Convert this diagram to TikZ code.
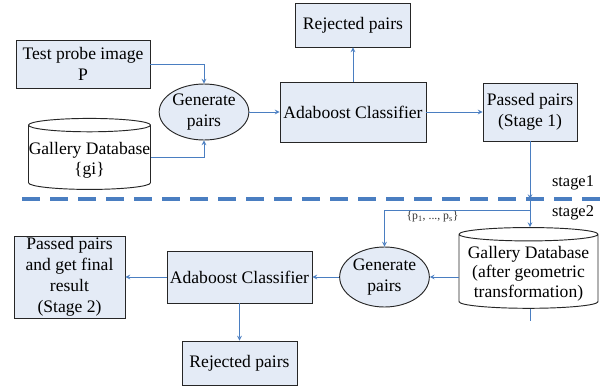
\documentclass[tikz,border=0pt]{standalone}
\usepackage{xcolor}
\usepackage{fontspec}
\setmainfont{Liberation Serif}
\usetikzlibrary{shapes.geometric, arrows, positioning, calc}

\definecolor{boxfill}{RGB}{228,235,246}
\definecolor{linkblue}{RGB}{74,126,193}

\begin{document}
\begin{tikzpicture}[x=0.03cm, y=-0.03cm, auto]
    \tikzstyle{block} = [rectangle, draw=black!85, line width=0.8pt, fill=boxfill, align=center, inner sep=0pt, font=\fontsize{15}{18}\selectfont]
    \tikzstyle{gen} = [ellipse, draw=black!85, line width=0.8pt, fill=boxfill, align=center, inner sep=0pt, font=\fontsize{15}{18}\selectfont]
    \tikzstyle{dbase} = [cylinder, shape border rotate=90, aspect=0.11, draw=black!85, line width=0.8pt, fill=white, align=center, inner sep=0pt, font=\fontsize{15}{17}\selectfont]
    \tikzstyle{arrow} = [->, >=stealth, linkblue, line width=0.8pt]
    \tikzstyle{stageline} = [linkblue, line width=2.6pt, dash pattern=on 0.54cm off 0.3cm]
    \tikzstyle{stagetext} = [font=\fontsize{14}{16}\selectfont, inner sep=0pt]

    \useasboundingbox (0,0) rectangle (609,390);

    % stage 1
    \node[block, minimum width=4.02cm, minimum height=1.44cm] (probe) at (83,64) {Test probe image\\P};
    \node[gen, minimum width=2.52cm, minimum height=1.68cm] (gen1) at (204,112) {Generate\\pairs};
    \node[dbase, minimum width=3.66cm, minimum height=2.13cm] (gal1) at (89.5,157.5) {\rule{0pt}{0.55cm}Gallery Database\\\{gi\}};
    \node[block, right of=gen1, node distance=4.47cm, minimum width=4.38cm, minimum height=1.8cm] (ada1) {Adaboost Classifier};
    \node[block, above of=ada1, node distance=2.61cm, minimum width=3.45cm, minimum height=1.32cm] (rej1) {Rejected pairs};
    \node[block, right of=ada1, node distance=5.31cm, minimum width=2.82cm, minimum height=1.74cm] (pass1) {Passed pairs\\(Stage 1)};

    % stage border
    \coordinate (lineL) at (22,199);
    \coordinate (lineR) at (601,199);
    \coordinate (drop) at (530,199);
    \coordinate (split) at (530,210);
    \coordinate (stub) at (530,321);
    \draw[stageline] (lineL) -- (lineR);
    \node[stagetext] (st1) at (573,183) {stage1};
    \node[stagetext] (st2) at (573,213) {stage2};

    % stage 2
    \node[dbase, minimum width=4.17cm, minimum height=2.31cm] (gal2) at (528.5,271.5) {\rule{0pt}{0.5cm}Gallery Database\\(after geometric\\transformation)};
    \node[gen, minimum width=2.49cm, minimum height=1.8cm] (gen2) at (384.5,277) {Generate\\pairs};
    \node[block, left of=gen2, node distance=4.35cm, minimum width=4.35cm, minimum height=1.56cm] (ada2) {Adaboost Classifier};
    \node[block, left of=ada2, node distance=5.1cm, minimum width=3.33cm, minimum height=2.46cm] (pass2) {Passed pairs\\and get final\\result\\(Stage 2)};
    \node[block, below of=ada2, node distance=2.58cm, minimum width=3.45cm, minimum height=1.32cm] (rej2) {Rejected pairs};

    \draw[arrow] (probe.east) -| (gen1.north);
    \draw[arrow] (gal1.east) -| (gen1.south);
    \draw[arrow] (gen1) -- (ada1);
    \draw[arrow] (ada1) -- (rej1);
    \draw[arrow] (ada1) -- (pass1);
    \draw[arrow] (pass1.south -| drop) -- (drop);
    \draw[arrow] (drop) -- (drop |- gal2.north);
    \draw[arrow] (split) -- node[below, pos=0.67, inner sep=1pt, text=black!80, font=\fontsize{10}{12}\selectfont] {\{p\textsubscript{1}, ..., p\textsubscript{s}\}} (split -| gen2.north) -- (gen2.north);
    \draw[arrow] (gal2.west |- gen2) -- (gen2);
    \draw[arrow] (gen2) -- (ada2);
    \draw[arrow] (ada2) -- (pass2);
    \draw[arrow] (ada2) -- (rej2);
    \draw[linkblue, line width=0.8pt] (stub |- gal2.south) -- (stub);
\end{tikzpicture}
\end{document}
